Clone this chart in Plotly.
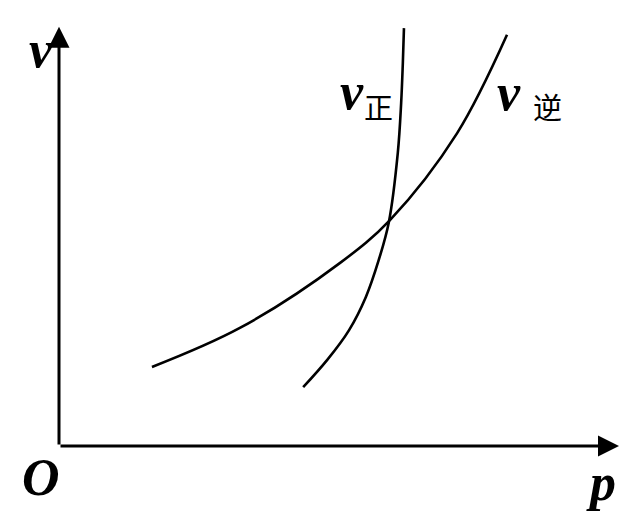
import plotly.graph_objects as go

# v-p curves (p on x, v on y, axis origin at O)
p_fwd = [4.36, 4.79, 5.18, 5.48, 5.71, 5.89, 6.05, 6.11, 6.14, 6.16]
v_fwd = [1.40, 2.05, 2.76, 3.55, 4.43, 5.33, 6.98, 8.17, 9.12, 9.95]

p_rev = [1.66, 3.23, 5.02, 5.91, 7.11, 8.00]
v_rev = [1.88, 2.81, 4.36, 5.38, 7.45, 9.79]

p_axis_end = 10.0
v_axis_end = 9.98

serif = "Liberation Serif"
cjk = "Noto Sans CJK SC"

fig = go.Figure()

for px_, vy_ in [(p_fwd, v_fwd), (p_rev, v_rev)]:
    fig.add_trace(go.Scatter(
        x=px_, y=vy_, mode='lines',
        line=dict(color='black', width=2.6, shape='spline', smoothing=1.0),
        hoverinfo='skip', showlegend=False
    ))

# axes with arrow heads
for tip in [(p_axis_end, 0), (0, v_axis_end)]:
    fig.add_annotation(
        x=tip[0], y=tip[1], ax=0, ay=0, xref='x', yref='y', axref='x', ayref='y',
        text='', showarrow=True, arrowhead=2, arrowsize=1.4, arrowwidth=3,
        arrowcolor='black'
    )

def label(text, x, y, size, family=serif, bold=True, italic=True):
    t = text
    if italic:
        t = f"<i>{t}</i>"
    if bold:
        t = f"<b>{t}</b>"
    fig.add_annotation(x=x, y=y, xref='x', yref='y', text=t, showarrow=False,
                       font=dict(family=family, size=size, color='black'),
                       xanchor='center', yanchor='middle')

label('v', -0.33, 9.45, 52)
label('O', -0.33, -0.75, 52)
label('p', 9.67, -0.88, 52)
label('v', 5.24, 8.45, 52)
label('正', 5.71, 8.10, 29, family=cjk, bold=False, italic=False)
label('v', 8.04, 8.42, 52)
label('逆', 8.72, 8.10, 29, family=cjk, bold=False, italic=False)

# page body has an 8px margin, so the ranges are shifted to keep O at the same spot
fig.update_layout(
    width=640, height=528,
    margin=dict(l=0, r=0, t=0, b=0),
    paper_bgcolor='white', plot_bgcolor='white',
    xaxis=dict(range=[-51 / 56, 589 / 56], visible=False, fixedrange=True),
    yaxis=dict(range=[-90 / 42, 438 / 42], visible=False, fixedrange=True),
)

fig.write_html("out.html")
